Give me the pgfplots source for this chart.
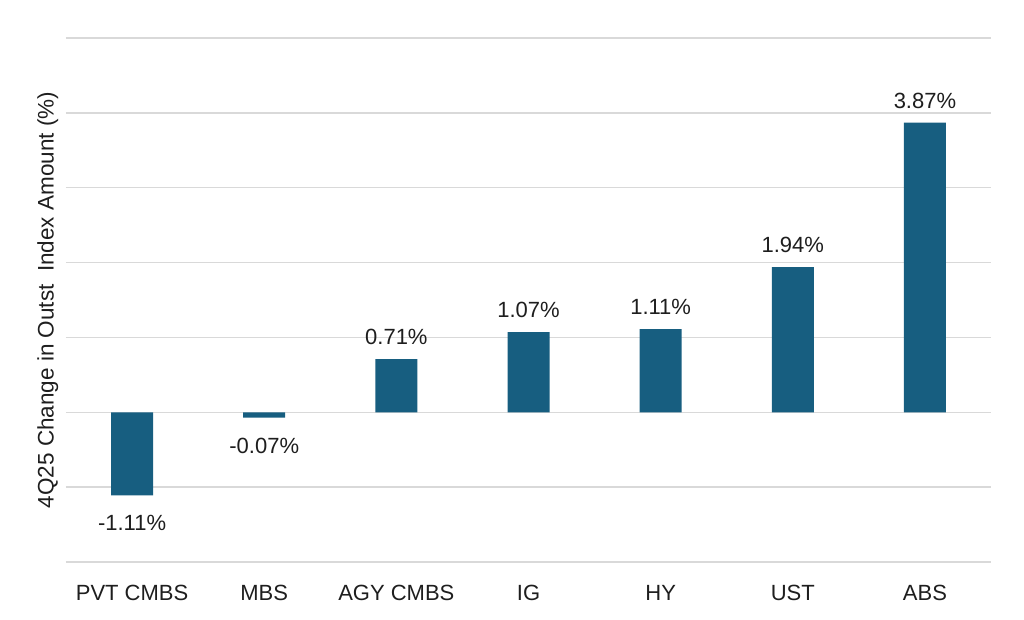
\documentclass[border=0pt]{standalone}
\usepackage{fontspec}
\setmainfont{Liberation Sans}
\usepackage{pgfplots}
\pgfplotsset{compat=1.18}
\definecolor{barblue}{RGB}{23,94,128}
\definecolor{gridgray}{RGB}{217,217,217}
\definecolor{txt}{RGB}{30,30,30}
\begin{document}
\begin{tikzpicture}
\path[use as bounding box] (-66pt,-58pt) rectangle (958pt,562pt);
\begin{axis}[
  scale only axis,
  width=925pt, height=524pt,
  xmin=-0.5, xmax=6.5,
  ymin=-2, ymax=5,
  ytick={-2,-1,0,1,2,3,4,5},
  yticklabels={},
  ymajorgrids,
  grid style={gridgray, line width=1.5pt},
  axis line style={draw=none},
  tick style={draw=none},
  xtick={0,1,2,3,4,5,6},
  xticklabels={PVT CMBS,MBS,AGY CMBS,IG,HY,UST,ABS},
  xticklabel style={font=\fontsize{22}{26}\selectfont, text=txt, anchor=north, inner sep=0pt, text height=16pt, text depth=4pt, yshift=-18pt},
  ylabel={4Q25 Change in Outst\ \ Index Amount (\%)},
  ylabel style={at={(axis description cs:-0.0045,0.5)}, anchor=south, rotate=0, font=\fontsize{22.5}{26}\selectfont, text=txt},
  ybar, bar width=42pt,
  point meta=explicit symbolic,
  nodes near coords,
]
\addplot[fill=barblue, draw=none, bar shift=0pt,
  nodes near coords style={font=\fontsize{22}{26}\selectfont, text=txt, inner sep=0pt, anchor=north, yshift=-20pt}]
  coordinates {
  (0,-1.11) [-1.11\%]
  (1,-0.07) [-0.07\%]
};
\addplot[fill=barblue, draw=none, bar shift=0pt,
  nodes near coords style={font=\fontsize{22}{26}\selectfont, text=txt, inner sep=0pt, anchor=south, yshift=14pt}]
  coordinates {
  (2,0.71) [0.71\%]
  (3,1.07) [1.07\%]
  (4,1.11) [1.11\%]
  (5,1.94) [1.94\%]
  (6,3.87) [3.87\%]
};
\end{axis}
\end{tikzpicture}
\end{document}
